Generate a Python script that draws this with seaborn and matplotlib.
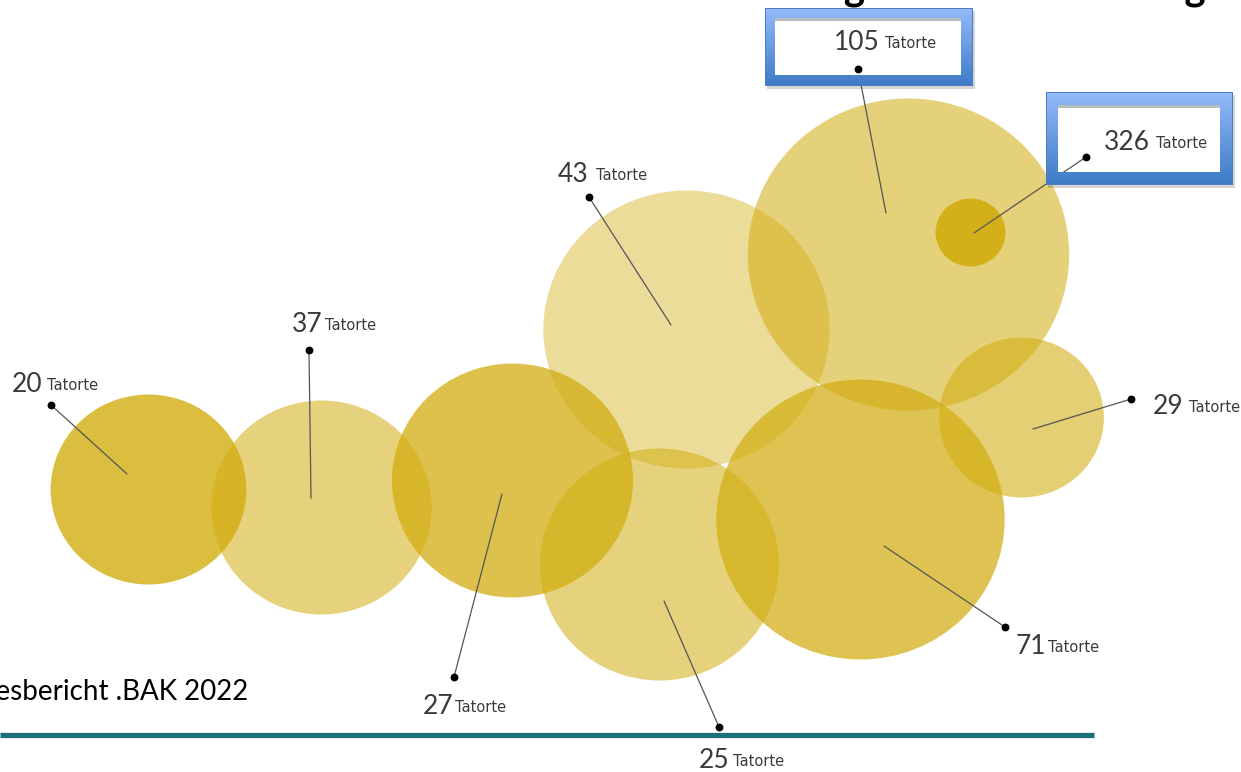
# bubble chart of crime scenes ("Tatorte")
import numpy as np
import matplotlib.pyplot as plt
import seaborn as sns
from matplotlib.markers import MarkerStyle
from matplotlib.patches import Rectangle
from matplotlib.transforms import Affine2D

# ===============================
# DATA (axes run in image pixels)
# ===============================
counts = [20, 37, 27, 43, 25, 71, 105, 326, 29]
bubble_x = [148, 321, 512, 686, 659, 860, 908, 970, 1021]
bubble_y = [489, 507, 480, 329, 564, 519, 254, 232, 417]
bubble_r = [95, 107, 117, 139, 116, 140, 156, 34, 80]
bubble_alpha = [0.80, 0.55, 0.75, 0.42, 0.55, 0.72, 0.56, 0.90, 0.58]

dot_x = [51, 309, 454, 589, 719, 1005, 858, 1086, 1131]
dot_y = [405, 350, 677, 197, 727, 627, 69, 157, 399]
end_x = [127, 311, 502, 671, 664, 884, 886, 974, 1033]
end_y = [474, 498, 494, 325, 601, 546, 213, 233, 429]

label_x = [12, 292, 423, 558, 699, 1016, 834, 1104, 1153]
label_y = [385, 325, 707, 174, 760, 646, 42, 142, 406]
unit_x = [47, 325, 455, 596, 733, 1048, 885, 1156, 1189]

title = "Unterschiede der Anzahl der Tatorte in den Regionen in Verteilung"
source = "Jahresbericht .BAK 2022"

GOLD = "#d2ad10"
INK = "#3a3a3a"

# ===============================
# STYLING
# ===============================
sns.set_theme(style="white")
plt.rcParams["font.family"] = ["Lato", "DejaVu Sans"]

fig = plt.figure(figsize=(12.41, 7.72), dpi=100)
ax = fig.add_axes([0, 0, 1, 1])

# ===============================
# BUBBLES
# ===============================
# the source circles are a little wider than tall
wide_circle = MarkerStyle("o", transform=Affine2D().scale(1.03, 1))
for x, y, r, a in zip(bubble_x, bubble_y, bubble_r, bubble_alpha):
    area = (2 * r * 72 / fig.dpi) ** 2
    sns.scatterplot(x=[x], y=[y], s=area, color=GOLD, alpha=a, linewidth=0,
                    marker=wide_circle, legend=False, ax=ax, zorder=2)

# ===============================
# CALLOUT BOXES (white inside, gradient frame on top of the lines)
# ===============================
def callout(x0, y0, x1, y1, ix0, iy0, ix1, iy1):
    ax.add_patch(Rectangle((x0 + 2, y0 + 3), x1 - x0, y1 - y0, color="#555555",
                           alpha=0.25, linewidth=0, zorder=3))
    ax.add_patch(Rectangle((ix0, iy0), ix1 - ix0, iy1 - iy0, color="white",
                           linewidth=0, zorder=3.5))
    h, w = y1 - y0, x1 - x0
    top, bottom = np.array([0.58, 0.73, 0.98]), np.array([0.24, 0.48, 0.78])
    t = np.linspace(0, 1, h)[:, None, None]
    rgba = np.ones((h, w, 4))
    rgba[:, :, :3] = top * (1 - t) + bottom * t
    rgba[iy0 - y0:iy1 - y0, ix0 - x0:ix1 - x0, 3] = 0
    # thin darker line round both edges of the frame
    rgba[[0, -1], :, :3] = [0.30, 0.50, 0.76]
    rgba[:, [0, -1], :3] = [0.30, 0.50, 0.76]
    ax.imshow(rgba, extent=(x0, x1, y1, y0), aspect="auto", zorder=5,
              interpolation="nearest")
    ax.add_patch(Rectangle((ix0, iy0), ix1 - ix0, 3, color="#8a8f96", alpha=0.6,
                           linewidth=0, zorder=5))


callout(765, 8, 973, 86, 775, 18, 961, 75)
callout(1046, 92, 1233, 185, 1058, 105, 1220, 172)

# ===============================
# LEADER LINES, DOTS, LABELS
# ===============================
for i, n in enumerate(counts):
    # the 105 line disappears behind its white box, the 326 one stays on top
    ax.plot([dot_x[i], end_x[i]], [dot_y[i], end_y[i]], color="#555555",
            linewidth=0.9, zorder=3.4 if n == 105 else 4)
    ax.text(label_x[i], label_y[i], str(n), fontsize=19, color=INK,
            va="center", ha="left", zorder=6)
    ax.text(unit_x[i], label_y[i] + 1, "Tatorte", fontsize=10.5, color=INK,
            family="DejaVu Sans", va="center", ha="left", zorder=6)
sns.scatterplot(x=dot_x, y=dot_y, s=32, color="black", linewidth=0, legend=False,
                ax=ax, zorder=6)

# ===============================
# TITLE, SOURCE, RULE
# ===============================
ax.text(12, -0.6, title, fontsize=29, fontweight="bold", color="black",
        va="baseline", ha="left")
ax.text(248, 700, source, fontsize=20, color="black", va="baseline", ha="right")
ax.plot([0, 1094], [734.5, 734.5], color="#1a6f7a", linewidth=3.8,
        solid_capstyle="butt", zorder=3)

ax.set_xlim(0, 1241)
ax.set_ylim(772, 0)
ax.axis("off")

fig.savefig("out.png", dpi=100)
